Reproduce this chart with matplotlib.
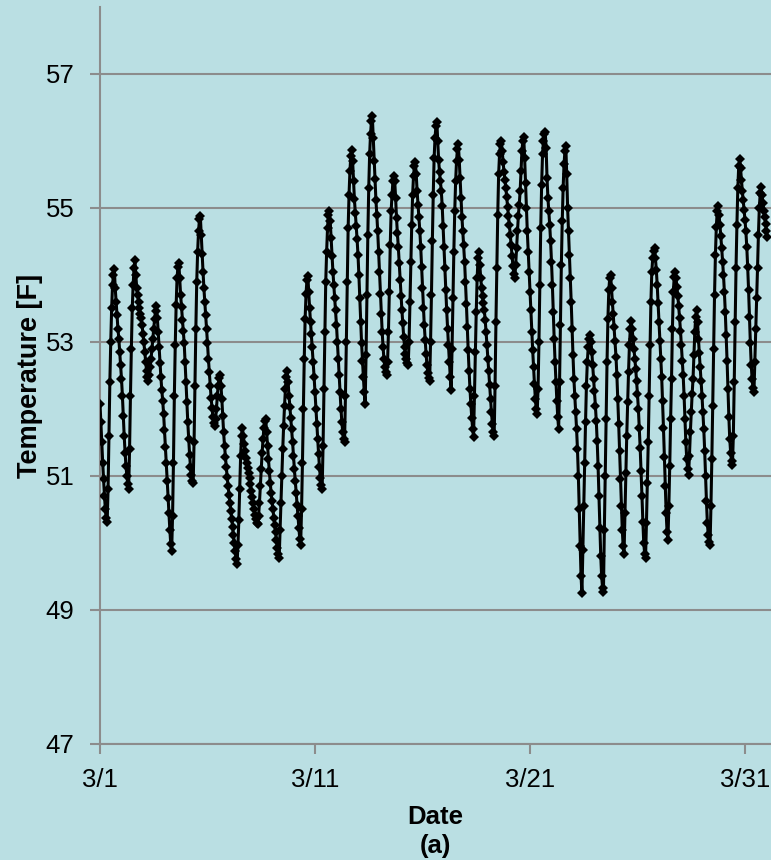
import matplotlib
matplotlib.use("Agg")
import matplotlib.pyplot as plt
import matplotlib.dates as mdates
import pandas as pd

# hourly temperature readings [F], one row per day starting 3/1 00:00
DAY_01 = [52.08, 51.8, 51.5, 51.2, 50.95, 50.7, 50.5, 50.38, 50.31, 50.8, 51.6, 52.4,
          53.0, 53.5, 53.85, 54.0, 54.09, 53.8, 53.6, 53.4, 53.2, 53.05, 52.85, 52.65]
DAY_02 = [52.45, 52.2, 51.9, 51.6, 51.35, 51.15, 51.0, 50.88, 50.81, 51.4, 52.2, 52.9,
          53.5, 53.85, 54.1, 54.23, 54.0, 53.8, 53.7, 53.6, 53.5, 53.42, 53.36, 53.25]
DAY_03 = [53.12, 53.0, 52.85, 52.7, 52.57, 52.47, 52.42, 52.5, 52.62, 52.75, 52.9, 53.05,
          53.2, 53.35, 53.46, 53.53, 53.36, 53.15, 52.92, 52.69, 52.47, 52.28, 52.12, 51.93]
DAY_04 = [51.68, 51.43, 51.19, 50.93, 50.67, 50.44, 50.19, 49.98, 49.88, 50.4, 51.2, 52.2,
          52.95, 53.55, 53.95, 54.12, 54.18, 53.95, 53.7, 53.52, 53.33, 53.17, 52.98, 52.7]
DAY_05 = [52.4, 52.1, 51.8, 51.55, 51.32, 51.14, 51.01, 50.93, 50.89, 51.5, 52.35, 53.2,
          53.9, 54.35, 54.65, 54.83, 54.88, 54.6, 54.32, 54.05, 53.8, 53.6, 53.4, 53.2]
DAY_06 = [52.98, 52.75, 52.55, 52.35, 52.17, 52.02, 51.88, 51.79, 51.75, 51.85, 52.0, 52.2,
          52.35, 52.46, 52.51, 52.35, 52.15, 51.9, 51.65, 51.45, 51.28, 51.13, 50.98, 50.85]
DAY_07 = [50.72, 50.6, 50.48, 50.36, 50.24, 50.12, 50.0, 49.88, 49.76, 49.69, 49.97, 50.35,
          50.8, 51.3, 51.6, 51.72, 51.6, 51.48, 51.37, 51.27, 51.19, 51.12, 51.05, 50.97]
DAY_08 = [50.88, 50.78, 50.68, 50.59, 50.5, 50.42, 50.36, 50.3, 50.28, 50.4, 50.6, 50.85,
          51.1, 51.35, 51.55, 51.72, 51.82, 51.85, 51.65, 51.45, 51.25, 51.07, 50.9, 50.75]
DAY_09 = [50.62, 50.5, 50.38, 50.27, 50.16, 50.05, 49.93, 49.83, 49.77, 50.2, 50.6, 51.0,
          51.4, 51.75, 52.05, 52.3, 52.48, 52.56, 52.4, 52.2, 52.03, 51.87, 51.7, 51.5]
DAY_10 = [51.3, 51.1, 50.93, 50.75, 50.57, 50.4, 50.22, 50.06, 49.97, 50.5, 51.2, 52.0,
          52.75, 53.35, 53.72, 53.92, 53.99, 53.75, 53.5, 53.3, 53.12, 52.92, 52.7, 52.48]
DAY_11 = [52.25, 52.0, 51.77, 51.55, 51.33, 51.13, 50.97, 50.87, 50.81, 51.45, 52.3, 53.15,
          53.9, 54.35, 54.7, 54.9, 54.96, 54.8, 54.55, 54.28, 54.05, 53.85, 53.66, 53.47]
DAY_12 = [53.25, 53.0, 52.75, 52.5, 52.25, 52.0, 51.8, 51.65, 51.55, 51.51, 52.2, 53.0,
          53.9, 54.7, 55.2, 55.55, 55.78, 55.86, 55.7, 55.4, 55.13, 54.92, 54.73, 54.53]
DAY_13 = [54.3, 54.0, 53.65, 53.3, 52.98, 52.72, 52.48, 52.25, 52.08, 52.8, 53.7, 54.6,
          55.3, 55.8, 56.1, 56.3, 56.37, 56.05, 55.7, 55.43, 55.12, 54.9, 54.65, 54.35]
DAY_14 = [54.05, 53.72, 53.42, 53.15, 52.92, 52.74, 52.62, 52.55, 52.51, 52.7, 53.15, 53.75,
          54.45, 54.95, 55.2, 55.4, 55.47, 55.4, 55.15, 54.85, 54.62, 54.42, 54.18, 53.92]
DAY_15 = [53.68, 53.48, 53.28, 53.08, 52.93, 52.82, 52.74, 52.68, 52.65, 53.0, 53.6, 54.2,
          54.75, 55.2, 55.48, 55.63, 55.69, 55.5, 55.25, 55.05, 54.87, 54.66, 54.42, 54.12]
DAY_16 = [53.8, 53.5, 53.25, 53.03, 52.82, 52.66, 52.54, 52.46, 52.42, 53.0, 53.7, 54.5,
          55.2, 55.75, 56.05, 56.22, 56.29, 56.0, 55.72, 55.53, 55.4, 55.25, 55.03, 54.73]
DAY_17 = [54.42, 54.1, 53.78, 53.47, 53.2, 52.95, 52.7, 52.48, 52.29, 52.9, 53.65, 54.35,
          54.95, 55.4, 55.7, 55.88, 55.95, 55.72, 55.45, 55.15, 54.87, 54.65, 54.45, 54.2]
DAY_18 = [53.9, 53.57, 53.22, 52.88, 52.57, 52.3, 52.07, 51.87, 51.7, 51.58, 52.2, 52.85,
          53.45, 53.95, 54.25, 54.35, 54.15, 53.95, 53.8, 53.68, 53.58, 53.47, 53.33, 53.15]
DAY_19 = [52.95, 52.75, 52.56, 52.36, 52.15, 51.95, 51.78, 51.65, 51.59, 52.35, 53.3, 54.1,
          54.9, 55.5, 55.8, 55.95, 56.0, 55.85, 55.68, 55.54, 55.42, 55.3, 55.16, 55.02]
DAY_20 = [54.88, 54.74, 54.6, 54.44, 54.28, 54.13, 54.02, 53.96, 54.15, 54.4, 54.65, 54.88,
          55.05, 55.25, 55.55, 55.85, 56.0, 56.06, 55.75, 55.38, 55.0, 54.65, 54.35, 54.05]
DAY_21 = [53.75, 53.47, 53.15, 52.88, 52.62, 52.37, 52.15, 52.0, 51.93, 52.3, 53.0, 53.85,
          54.7, 55.35, 55.8, 56.0, 56.1, 56.13, 55.9, 55.45, 55.15, 54.95, 54.75, 54.5]
DAY_22 = [54.2, 53.85, 53.45, 53.05, 52.7, 52.4, 52.12, 51.88, 51.7, 52.4, 53.25, 54.15,
          54.8, 55.3, 55.65, 55.85, 55.93, 55.5, 55.0, 54.65, 54.3, 53.95, 53.6, 53.2]
DAY_23 = [52.8, 52.45, 52.2, 51.95, 51.7, 51.4, 51.0, 50.5, 49.95, 49.5, 49.25, 49.9,
          50.55, 51.2, 51.8, 52.35, 52.7, 52.92, 53.05, 53.1, 53.0, 52.85, 52.65, 52.45]
DAY_24 = [52.27, 52.05, 51.82, 51.52, 51.15, 50.7, 50.22, 49.8, 49.5, 49.33, 49.27, 50.2,
          51.0, 51.85, 52.7, 53.35, 53.78, 53.95, 54.0, 53.8, 53.6, 53.42, 53.22, 53.02]
DAY_25 = [52.78, 52.5, 52.15, 51.78, 51.38, 50.95, 50.55, 50.2, 49.95, 49.84, 50.45, 51.05,
          51.6, 52.1, 52.55, 52.95, 53.2, 53.31, 53.2, 53.05, 52.9, 52.75, 52.6, 52.42]
DAY_26 = [52.22, 52.0, 51.72, 51.42, 51.08, 50.7, 50.32, 50.0, 49.84, 49.78, 50.3, 50.9,
          51.5, 52.2, 52.95, 53.6, 54.05, 54.25, 54.36, 54.4, 54.25, 54.08, 53.85, 53.58]
DAY_27 = [53.3, 53.02, 52.75, 52.48, 52.12, 51.72, 51.28, 50.85, 50.45, 50.17, 50.04, 50.55,
          51.15, 51.85, 52.45, 53.2, 53.75, 53.97, 54.04, 53.95, 53.82, 53.68, 53.53, 53.36]
DAY_28 = [53.17, 52.95, 52.72, 52.5, 52.2, 51.85, 51.5, 51.25, 51.1, 51.02, 51.3, 51.65,
          51.95, 52.22, 52.45, 52.8, 53.15, 53.38, 53.48, 53.3, 53.05, 52.83, 52.62, 52.42]
DAY_29 = [52.2, 51.96, 51.7, 51.38, 51.0, 50.62, 50.3, 50.12, 50.02, 49.97, 50.55, 51.25,
          52.05, 52.9, 53.7, 54.3, 54.72, 54.95, 55.03, 54.9, 54.75, 54.58, 54.4, 54.2]
DAY_30 = [54.0, 53.75, 53.45, 53.1, 52.72, 52.3, 51.88, 51.55, 51.35, 51.22, 51.16, 51.6,
          52.4, 53.3, 54.1, 54.75, 55.3, 55.62, 55.73, 55.6, 55.42, 55.26, 55.12, 54.97]
DAY_31 = [54.82, 54.65, 54.42, 54.12, 53.78, 53.38, 52.98, 52.65, 52.44, 52.31, 52.25, 52.7,
          53.2, 53.65, 54.1, 54.6, 55.0, 55.22, 55.31, 55.2, 55.08, 54.96, 54.86, 54.76]
DAY_32 = [54.66, 54.56]

TICK_DATES = ["2013-03-01", "2013-03-11", "2013-03-21", "2013-03-31"]
Y_TICKS = [47, 49, 51, 53, 55, 57]

BG = "#BADFE3"
GRID = "#8C8C8C"

temps = (DAY_01 + DAY_02 + DAY_03 + DAY_04 + DAY_05 + DAY_06 + DAY_07 + DAY_08
         + DAY_09 + DAY_10 + DAY_11 + DAY_12 + DAY_13 + DAY_14 + DAY_15 + DAY_16
         + DAY_17 + DAY_18 + DAY_19 + DAY_20 + DAY_21 + DAY_22 + DAY_23 + DAY_24
         + DAY_25 + DAY_26 + DAY_27 + DAY_28 + DAY_29 + DAY_30 + DAY_31 + DAY_32)
times = pd.date_range("2013-03-01", periods=len(temps), freq="h")

plt.rcParams.update({
    "font.family": ["Liberation Sans", "DejaVu Sans"],
    "font.size": 18.5,
})

fig = plt.figure(figsize=(7.71, 8.60), dpi=100, facecolor=BG)
ax = fig.add_axes([0.1297, 0.1349, 0.8703, 0.857])
ax.set_facecolor(BG)

ax.plot(times, temps, color="black", linewidth=2.2, marker="D",
        markersize=4.8, markerfacecolor="black", markeredgewidth=0, zorder=3)

start = pd.Timestamp("2013-03-01")
ax.set_xlim(start, start + pd.Timedelta(days=31.21))
ax.set_ylim(47, 58)
ax.set_yticks(Y_TICKS)
ax.set_xticks(pd.to_datetime(TICK_DATES))
ax.xaxis.set_major_formatter(mdates.DateFormatter("%-m/%-d"))

ax.grid(True, axis="y", color=GRID, linewidth=1.5)
ax.set_axisbelow(True)
for side in ("top", "right"):
    ax.spines[side].set_visible(False)
for side in ("left", "bottom"):
    ax.spines[side].set_color(GRID)
    ax.spines[side].set_linewidth(1.5)
ax.tick_params(axis="both", direction="out", length=7, width=1.5, color=GRID,
               labelsize=18.5)
ax.tick_params(axis="y", pad=11.5)
ax.tick_params(axis="x", pad=10.5)

ax.set_ylabel("Temperature [F]", fontweight="bold", fontsize=19.5, labelpad=2)
ax.set_xlabel("Date\n(a)", fontweight="bold", fontsize=18.5, labelpad=9, linespacing=1.25)

fig.savefig("out.png", dpi=100, facecolor=BG)
